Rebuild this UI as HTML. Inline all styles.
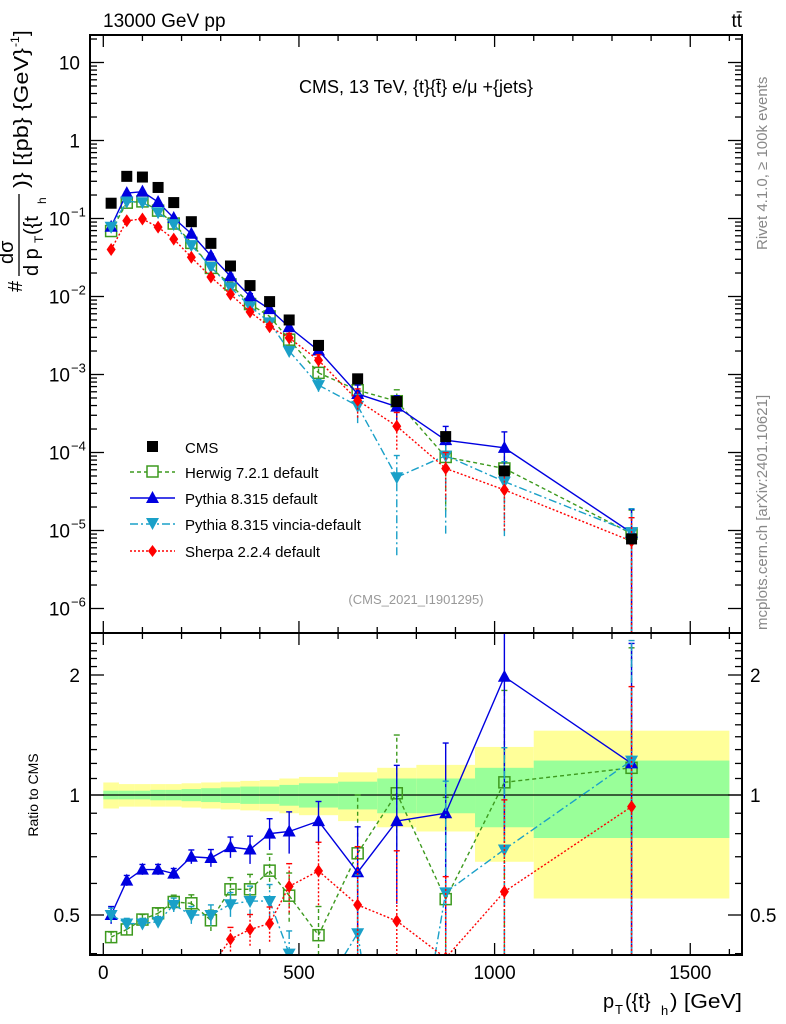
<!DOCTYPE html>
<html><head><meta charset="utf-8"><style>
html,body{margin:0;padding:0;background:#fff;width:786px;height:1024px;overflow:hidden;}
svg{display:block;font-family:"Liberation Sans",sans-serif;}
</style></head><body>
<svg id="chart" width="786" height="1024" viewBox="0 0 786 1024" xmlns="http://www.w3.org/2000/svg">
<defs>
<clipPath id="clipMain"><rect x="90" y="35" width="652" height="598"/></clipPath>
<clipPath id="clipRatio"><rect x="90" y="633" width="652" height="322"/></clipPath>
</defs>
<g id="bands" clip-path="url(#clipRatio)"></g>
<g id="ratioMarks" clip-path="url(#clipRatio)"></g>
<g id="mainMarks" clip-path="url(#clipMain)"></g>
<g id="axes"></g>

<text x="103" y="27" font-size="19">13000 GeV pp</text>
<text x="742" y="27" font-size="19" text-anchor="end">tt̄</text>
<text x="416" y="93" font-size="18" text-anchor="middle">CMS, 13 TeV, {t}{t̄} e/μ +{jets}</text>
<text x="416" y="604" font-size="13" fill="#999" text-anchor="middle">(CMS_2021_I1901295)</text>
<text transform="translate(767,250) rotate(-90)" font-size="15" fill="#888">Rivet 4.1.0, ≥ 100k events</text>
<text transform="translate(767,630) rotate(-90)" font-size="15" fill="#888">mcplots.cern.ch [arXiv:2401.10621]</text>

<g transform="translate(22,292) rotate(-90)">
<text x="0" y="0" font-size="20">#</text>
<text x="28" y="-9" font-size="20">dσ</text>
<line x1="16" y1="-3" x2="98" y2="-3" stroke="#000" stroke-width="1.3"/>
<text x="16" y="16" font-size="20">d p</text>
<text x="49" y="21" font-size="12">T</text>
<text x="57" y="16" font-size="20">({t</text>
<text x="88" y="24" font-size="12">h</text>
<text x="104" y="6" font-size="20" textLength="140" lengthAdjust="spacingAndGlyphs">)} [{pb} {GeV}</text>
<text x="245" y="-3" font-size="12">-1</text>
<text x="256" y="6" font-size="20">]</text>
</g>
<text transform="translate(38,795) rotate(-90)" font-size="14" text-anchor="middle">Ratio to CMS</text>
<g>
<text x="603" y="1008" font-size="20">p</text>
<text x="615" y="1014" font-size="13">T</text>
<text x="625" y="1008" font-size="20">({t}</text>
<text x="661" y="1015" font-size="13">h</text>
<text x="670" y="1008" font-size="20" textLength="72" lengthAdjust="spacingAndGlyphs">) [GeV]</text>
</g>

<g>
<g><rect x="147" y="441" width="11" height="11" fill="#000"/><text x="185" y="453" font-size="15">CMS</text></g>
<g><line x1="130" y1="472" x2="175" y2="472" stroke="#3d9a1e" stroke-width="1.5" stroke-dasharray="4,3"/><rect x="147" y="466" width="11" height="11" fill="#fff" stroke="#3d9a1e" stroke-width="1.5"/><text x="185" y="478" font-size="15">Herwig 7.2.1 default</text></g>
<g><line x1="130" y1="498" x2="175" y2="498" stroke="#0000e0" stroke-width="1.5"/><path d="M152.5,491 L159,503 L146,503 Z" fill="#0000e0"/><text x="185" y="504" font-size="15">Pythia 8.315 default</text></g>
<g><line x1="130" y1="524" x2="175" y2="524" stroke="#1aa0c8" stroke-width="1.5" stroke-dasharray="8,3,2,3"/><path d="M146,518 L159,518 L152.5,530 Z" fill="#1aa0c8"/><text x="185" y="530" font-size="15">Pythia 8.315 vincia-default</text></g>
<g><line x1="130" y1="551" x2="175" y2="551" stroke="#f00" stroke-width="1.5" stroke-dasharray="2,2"/><path d="M152.5,545 L157,551 L152.5,557 L148,551 Z" fill="#f00"/><text x="185" y="557" font-size="15">Sherpa 2.2.4 default</text></g>
</g>
</svg>
<script>
// ---- data ----
const binCenters = [20,60,100,140,180,225,275,325,375,425,475,550,650,750,875,1025,1350];
const binEdges = [0,40,80,120,160,200,250,300,350,400,450,500,600,700,800,950,1100,1600];
const cmsValues = [0.157,0.347,0.34,0.25,0.16,0.091,0.048,0.0246,0.0138,0.0086,0.005,0.00236,0.00088,0.00045,0.00016,0.000058,0.0000078];
const cmsTotUnc = [0.075,0.065,0.065,0.065,0.065,0.07,0.075,0.08,0.085,0.09,0.1,0.11,0.14,0.17,0.19,0.32,0.45];
const cmsStatUnc = [0.025,0.025,0.025,0.03,0.03,0.035,0.04,0.045,0.05,0.05,0.06,0.07,0.08,0.1,0.1,0.17,0.22];
const herwigRatio = [0.44,0.46,0.487,0.505,0.539,0.535,0.485,0.58,0.58,0.646,0.559,0.445,0.714,1.01,0.548,1.076,1.17];
const pythiaRatio = [0.50,0.61,0.65,0.65,0.635,0.70,0.695,0.74,0.73,0.80,0.81,0.86,0.64,0.86,0.90,1.98,1.2];
const vinciaRatio = [0.50,0.476,0.476,0.481,0.53,0.50,0.50,0.532,0.542,0.542,0.40,0.31,0.45,0.107,0.57,0.73,1.22];
const sherpaRatio = [0.255,0.27,0.29,0.31,0.34,0.35,0.37,0.435,0.46,0.476,0.59,0.645,0.53,0.483,0.39,0.572,0.935];
const herwigErr = [0.03,0.03,0.03,0.03,0.04,0.05,0.06,0.07,0.09,0.1,0.14,0.18,0.4,0.4,0.8,0.7,1.0];
const pythiaErr = [0.05,0.03,0.03,0.03,0.03,0.04,0.05,0.06,0.08,0.09,0.12,0.12,0.3,0.38,0.5,0.6,1.0];
const vinciaErr = [0.04,0.03,0.03,0.03,0.04,0.05,0.06,0.07,0.09,0.1,0.14,0.18,0.4,0.9,0.9,0.8,1.0];
const sherpaErr = [0.04,0.03,0.03,0.03,0.04,0.05,0.06,0.07,0.09,0.1,0.14,0.18,0.4,0.5,0.6,0.7,1.0];
const xTicks = [0,500,1000,1500];
const yDecades = [-6,-5,-4,-3,-2,-1,0,1];
const ratioTicks = [0.5,1,2];

// ---- axes ----
const X0=90,X1=742,YM0=35,YM1=633,YR1=955;
function xs(v){return 103.3+v*0.3913;}
function ym(v){return 140.5-78*Math.log10(v);}
function yr(r){return 795-120*Math.log2(r);}
const NS="http://www.w3.org/2000/svg";
function mk(tag,attrs,parent){const e=document.createElementNS(NS,tag);for(const k in attrs)e.setAttribute(k,attrs[k]);parent.appendChild(e);return e;}
const axes=document.getElementById('axes');
const bands=document.getElementById('bands');
const mainG=document.getElementById('mainMarks');
const ratioG=document.getElementById('ratioMarks');

// bands
for(let i=0;i<binCenters.length;i++){
  const xa=xs(binEdges[i]),xb=xs(binEdges[i+1]);
  const y=mk('rect',{x:xa,y:yr(1+cmsTotUnc[i]),width:xb-xa,height:yr(1-cmsTotUnc[i])-yr(1+cmsTotUnc[i]),fill:'#ffff99'},bands);
  
  
  const g=mk('rect',{x:xa,y:yr(1+cmsStatUnc[i]),width:xb-xa,height:yr(1-cmsStatUnc[i])-yr(1+cmsStatUnc[i]),fill:'#99ff99'},bands);
  
  
}
const one=mk('line',{x1:X0,x2:X1,y1:yr(1),y2:yr(1),stroke:'#000','stroke-width':1.3},bands);



// frames
for(const [a,b] of [[YM0,YM1],[YM1,YR1]]){
  const f=mk('rect',{x:X0,y:a,width:X1-X0,height:b-a,fill:'none',stroke:'#000','stroke-width':2},axes);
  
  
}
// x ticks
for(let v=0;v<=1600;v+=100){
  const major=v%500===0, L=major?12:6;
  for(const [top,bot] of [[YM0,YM1],[YM1,YR1]]){
    mk('line',{x1:xs(v),x2:xs(v),y1:bot,y2:bot-L,stroke:'#000','stroke-width':1.3},axes);
    mk('line',{x1:xs(v),x2:xs(v),y1:top,y2:top+L,stroke:'#000','stroke-width':1.3},axes);
  }
}
for(const v of xTicks){
  const t=mk('text',{x:xs(v),y:979,'font-size':19,'text-anchor':'middle'},axes);
  t.textContent=String(v);
  
  
}
// main y ticks
for(const d of yDecades){
  for(let m=1;m<=9;m++){
    const yy=ym(m*Math.pow(10,d)); if(yy<YM0||yy>YM1) continue;
    const L=m===1?14:7;
    mk('line',{x1:X0,x2:X0+L,y1:yy,y2:yy,stroke:'#000','stroke-width':1.3},axes);
    mk('line',{x1:X1,x2:X1-L,y1:yy,y2:yy,stroke:'#000','stroke-width':1.3},axes);
  }
  const yy=ym(Math.pow(10,d));
  const t=mk('text',{x:d>=0?80:70,y:yy+7,'font-size':19,'text-anchor':'end'},axes);
  t.textContent=d===1?'10':(d===0?'1':'10');
  
  
  if(d<0){
    const s=mk('text',{x:71,y:yy-2,'font-size':13},axes);
    s.textContent='−'+(-d);
    
    
  }
}
// ratio y ticks
for(let r=0.4;r<=2.5;r+=0.1){
  const yy=yr(r); if(yy<YM1||yy>YR1) continue;
  const major=Math.abs(r-0.5)<1e-6||Math.abs(r-1)<1e-6||Math.abs(r-2)<1e-6;
  const L=major?14:7;
  mk('line',{x1:X0,x2:X0+L,y1:yy,y2:yy,stroke:'#000','stroke-width':1.3},axes);
  mk('line',{x1:X1,x2:X1-L,y1:yy,y2:yy,stroke:'#000','stroke-width':1.3},axes);
}
for(const r of ratioTicks){
  const t=mk('text',{x:80,y:yr(r)+7,'font-size':19,'text-anchor':'end'},axes);
  t.textContent=String(r);
  
  
  const t2=mk('text',{x:750,y:yr(r)+7,'font-size':19},axes);
  t2.textContent=String(r);
  
  
}

// ---- series ----
function marker(kind,x,y,color,parent){
  if(kind==='sq') return mk('rect',{x:x-5.5,y:y-5.5,width:11,height:11,fill:'#000'},parent);
  if(kind==='osq') return mk('rect',{x:x-5.5,y:y-5.5,width:11,height:11,fill:'none',stroke:color,'stroke-width':1.5},parent);
  if(kind==='up') return mk('path',{d:`M${x},${y-7} L${x+6.5},${y+5} L${x-6.5},${y+5} Z`,fill:color},parent);
  if(kind==='dn') return mk('path',{d:`M${x-6.5},${y-5} L${x+6.5},${y-5} L${x},${y+7} Z`,fill:color},parent);
  return mk('path',{d:`M${x},${y-6.5} L${x+4.5},${y} L${x},${y+6.5} L${x-4.5},${y} Z`,fill:color},parent);
}
const series=[
  {name:'herwig',ratio:herwigRatio,err:herwigErr,color:'#3d9a1e',dash:'4,3',kind:'osq'},
  {name:'pythia',ratio:pythiaRatio,err:pythiaErr,color:'#0000e0',dash:'',kind:'up'},
  {name:'vincia',ratio:vinciaRatio,err:vinciaErr,color:'#1aa0c8',dash:'8,3,2,3',kind:'dn'},
  {name:'sherpa',ratio:sherpaRatio,err:sherpaErr,color:'#f00',dash:'2,2',kind:'dia'}
];
// clip a segment to y in [lo,hi]; returns null if fully outside
function clipSeg(p,q,lo,hi){
  let [x1,y1]=p,[x2,y2]=q;
  if((y1<lo&&y2<lo)||(y1>hi&&y2>hi)) return null;
  const cut=(xa,ya,xb,yb,yc)=>[xa+(xb-xa)*(yc-ya)/(yb-ya),yc];
  if(y1>hi) [x1,y1]=cut(x1,y1,x2,y2,hi);
  if(y2>hi) [x2,y2]=cut(x2,y2,x1,y1,hi);
  if(y1<lo) [x1,y1]=cut(x1,y1,x2,y2,lo);
  if(y2<lo) [x2,y2]=cut(x2,y2,x1,y1,lo);
  return [[x1,y1],[x2,y2]];
}
function drawSeries(s,parent,yf,valf,panel,ymin,ymax){
  const g=mk('g',{},parent);
  
  
  const pts=binCenters.map((c,i)=>[xs(c),yf(valf(i))]);
  let d='';
  for(let i=0;i<pts.length-1;i++){
    const sg=clipSeg(pts[i],pts[i+1],ymin,ymax);
    if(sg) d+=`M${sg[0][0]},${sg[0][1]} L${sg[1][0]},${sg[1][1]} `;
  }
  const pl=mk('path',{d:d||'M0,0',fill:'none',stroke:s.color,'stroke-width':1.4},g);
  if(s.dash) pl.setAttribute('stroke-dasharray',s.dash);
  
  
  binCenters.forEach((c,i)=>{
    const v=valf(i),e=s.err[i];
    const lo=Math.min(yf(Math.max(v*(1-e),1e-9)),ymax),hi=Math.max(yf(v*(1+e)),ymin);
    if(lo>hi){
      const eb=mk('line',{x1:xs(c),x2:xs(c),y1:lo,y2:hi,stroke:s.color,'stroke-width':1.4},g);
      if(s.dash) eb.setAttribute('stroke-dasharray',s.dash);
      if(hi>ymin) mk('line',{x1:xs(c)-3,x2:xs(c)+3,y1:hi,y2:hi,stroke:s.color,'stroke-width':1.4},g);
    }
    const py=yf(v);
    if(py>ymin-8&&py<ymax+8){
      const m=marker(s.kind,xs(c),py,s.color,g);
      
      
    }
  });
}
for(const s of series) drawSeries(s,mainG,ym,i=>cmsValues[i]*s.ratio[i],'main',YM0,YM1);
const cmsG=mk('g',{},mainG);


binCenters.forEach((c,i)=>{
  const m=marker('sq',xs(c),ym(cmsValues[i]),'#000',cmsG);
  
  
});
for(const s of series) drawSeries(s,ratioG,yr,i=>s.ratio[i],'ratio',YM1,YR1);
</script>
</body></html>
